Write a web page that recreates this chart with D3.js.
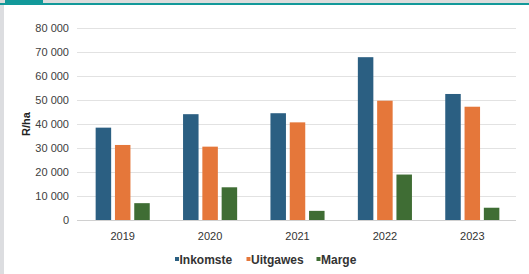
<!DOCTYPE html>
<html>
<head>
<meta charset="utf-8">
<script src="https://cdn.jsdelivr.net/npm/d3@7"></script>
<style>
  body { margin: 0; background: #fff; }
  svg { display: block; font-family: "Liberation Sans", Arial, sans-serif; }
</style>
</head>
<body>
<div id="chart"></div>
<script>
// chart data
var years = ["2019", "2020", "2021", "2022", "2023"];
var seriesNames = ["Inkomste", "Uitgawes", "Marge"];
var inkomste = [38400, 44000, 44400, 67700, 52400];
var uitgawes = [31200, 30500, 40600, 49600, 47100];
var marge = [7000, 13600, 3800, 18900, 5100];
var yTicks = [0, 10000, 20000, 30000, 40000, 50000, 60000, 70000, 80000];

var colors = ["#2b5f82", "#e5773a", "#3f6d34"];
var values = [inkomste, uitgawes, marge];

var W = 529, H = 274;
var svg = d3.select("#chart").append("svg").attr("width", W).attr("height", H);

// frame bits from the document the chart was cut out of
svg.append("rect").attr("x", 0).attr("y", 0).attr("width", W).attr("height", 4).attr("fill", "#dcdcdc");
svg.append("rect").attr("x", 5).attr("y", 0).attr("width", 38).attr("height", 4).attr("fill", "#12999a");
svg.append("rect").attr("x", 0).attr("y", 3).attr("width", W).attr("height", 2).attr("fill", "#12999a");
svg.append("rect").attr("x", 0).attr("y", 5).attr("width", 4).attr("height", H - 5).attr("fill", "#dcdde0");

var x0 = d3.scaleBand().domain(years).range([79, 516]).paddingInner(0).paddingOuter(0);
var y = d3.scaleLinear().domain([0, 80000]).range([220, 27.6]);

// gridlines
svg.append("g").selectAll("line").data(yTicks).join("line")
  .attr("x1", 77).attr("x2", 516)
  .attr("y1", function(d) { return Math.round(y(d)) + 0.5; })
  .attr("y2", function(d) { return Math.round(y(d)) + 0.5; })
  .attr("stroke", function(d) { return d === 0 ? "#d0d0d0" : "#e2e2e2"; })
  .attr("stroke-width", 1);

// y axis labels
var yAxis = d3.axisLeft(y).tickValues(yTicks).tickSize(0).tickPadding(0)
  .tickFormat(function(d) { return d3.format(",")(d).replace(/,/g, " "); });
var gy = svg.append("g").attr("transform", "translate(69,0)").call(yAxis);
gy.select(".domain").remove();
gy.selectAll("text").attr("font-size", 11).attr("fill", "#404040").attr("font-family", "Liberation Sans, Arial, sans-serif");

svg.append("text")
  .attr("transform", "translate(30,124) rotate(-90)")
  .attr("text-anchor", "middle")
  .attr("font-size", 11).attr("font-weight", "bold").attr("fill", "#222")
  .text("R/ha");

// bars
var barW = 15.5, gap = 3.8;
var groupW = barW * 3 + gap * 2;
years.forEach(function(yr, i) {
  var start = x0(yr) + x0.bandwidth() / 2 - groupW / 2;
  values.forEach(function(arr, s) {
    svg.append("rect")
      .attr("x", start + s * (barW + gap))
      .attr("y", y(arr[i]))
      .attr("width", barW)
      .attr("height", y(0) - y(arr[i]))
      .attr("fill", colors[s]);
  });
});

// x axis labels
var xAxis = d3.axisBottom(x0).tickSize(0).tickPadding(0);
var gx = svg.append("g").attr("transform", "translate(0,232)").call(xAxis);
gx.select(".domain").remove();
gx.selectAll("text").attr("font-size", 11).attr("fill", "#333").attr("font-family", "Liberation Sans, Arial, sans-serif");

// legend
var legendX = [175, 246.5, 316.5];
var leg = svg.append("g");
seriesNames.forEach(function(n, s) {
  leg.append("rect").attr("x", legendX[s]).attr("y", 257).attr("width", 4).attr("height", 4).attr("fill", colors[s]);
  leg.append("text").attr("x", legendX[s] + 4.5).attr("y", 263.5)
    .attr("font-size", 12).attr("font-weight", "bold").attr("fill", "#333")
    .text(n);
});
</script>
</body>
</html>
